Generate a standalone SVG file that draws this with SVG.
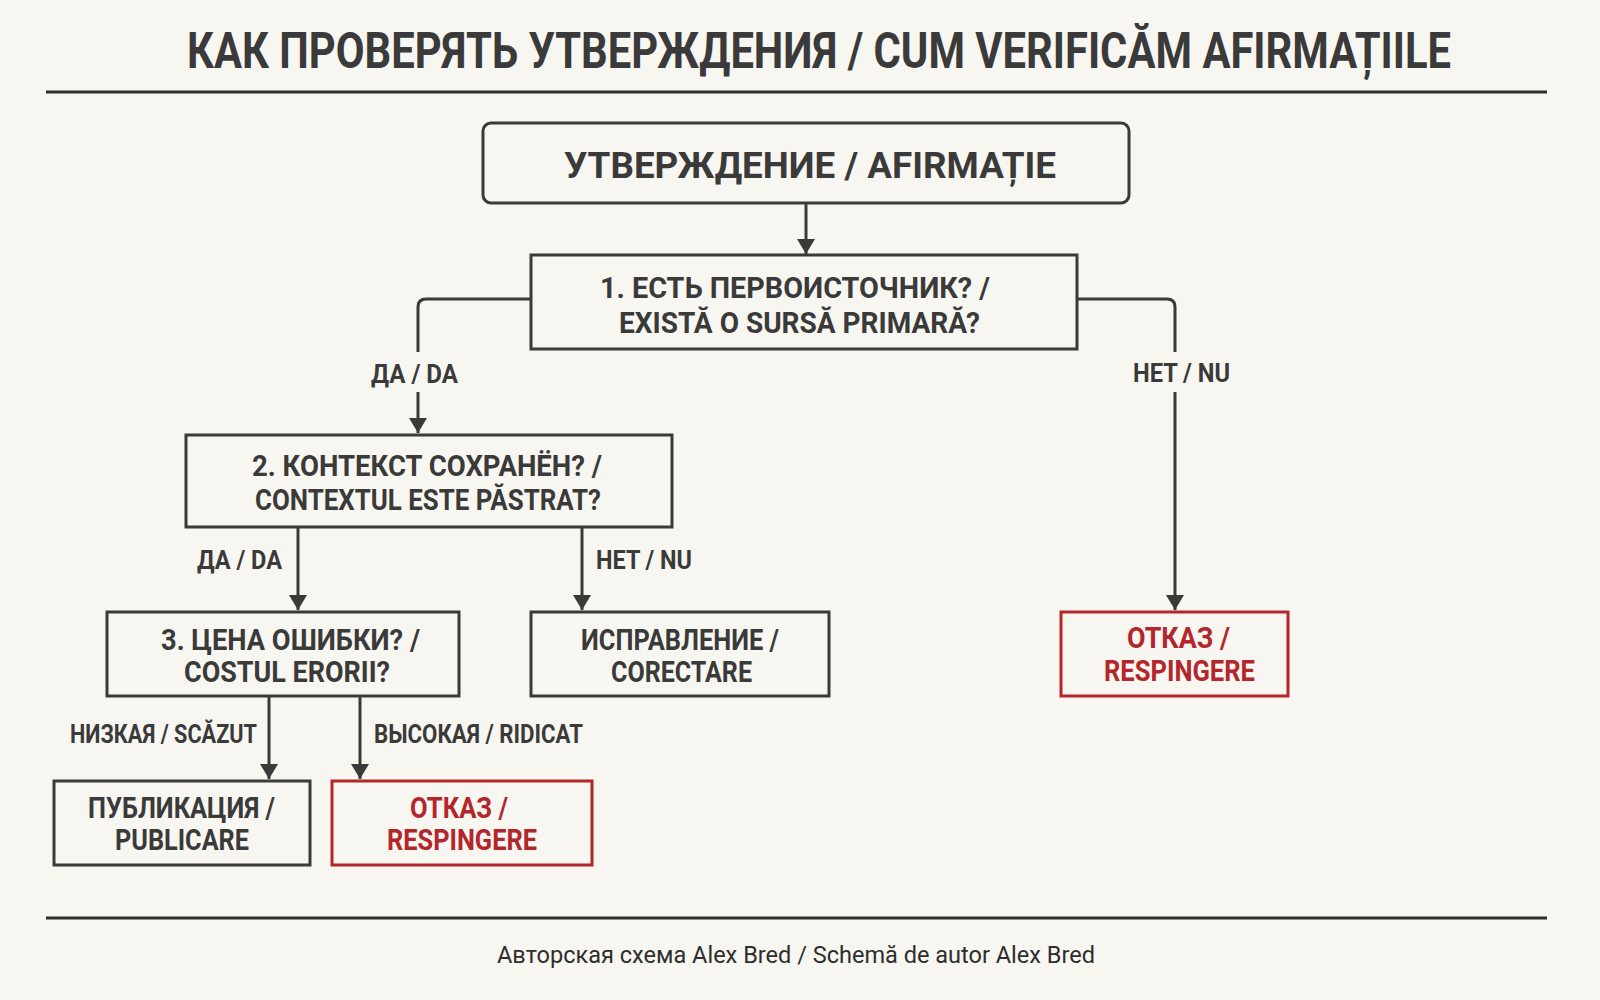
<svg xmlns="http://www.w3.org/2000/svg" width="1600" height="1000" viewBox="0 0 1600 1000">
<defs>
<style>
.bg{fill:#f8f6f0}
.box{fill:none;stroke:#3a3a3a;stroke-width:3}
.red{fill:none;stroke:#b3262b;stroke-width:3}
.t{font-family:Roboto,"Open Sans","DejaVu Sans",sans-serif;font-weight:700;fill:#3a3a3a}
.tr{font-family:Roboto,"Open Sans","DejaVu Sans",sans-serif;font-weight:700;fill:#b3262b}
.n{font-size:29px}
.lab{font-size:25px}
.edge{fill:none;stroke:#3a3a3a;stroke-width:3;stroke-linejoin:round}
.rule{stroke:#2e2e2e;stroke-width:3}
</style>
<marker id="arr" viewBox="0 -9 15 18" refX="15" refY="0" markerWidth="15" markerHeight="18" markerUnits="userSpaceOnUse" orient="auto">
<path d="M0,-9 L15,0 L0,9 z" fill="#3a3a3a"/>
</marker>
</defs>
<rect class="bg" x="0" y="0" width="1600" height="1000"/>

<text class="t" transform="matrix(0.857 0 0 1 187 68)" x="0" y="0" font-size="50" textLength="1475" lengthAdjust="spacingAndGlyphs">КАК ПРОВЕРЯТЬ УТВЕРЖДЕНИЯ / CUM VERIFICĂM AFIRMAȚIILE</text>
<line class="rule" x1="46" y1="92" x2="1547" y2="92"/>

<g id="connectors">
<path class="edge" d="M806,204 V254" marker-end="url(#arr)"/>
<path class="edge" d="M531,299 H426 Q418,299 418,307 V352"/>
<path class="edge" d="M418,392 V433" marker-end="url(#arr)"/>
<path class="edge" d="M1078,299 H1167 Q1175,299 1175,307 V352"/>
<path class="edge" d="M1175,392 V610" marker-end="url(#arr)"/>
<path class="edge" d="M298,528 V610" marker-end="url(#arr)"/>
<path class="edge" d="M582,528 V610" marker-end="url(#arr)"/>
<path class="edge" d="M269,697 V779" marker-end="url(#arr)"/>
<path class="edge" d="M360,697 V779" marker-end="url(#arr)"/>
<text class="t lab" x="371" y="383" textLength="87" lengthAdjust="spacingAndGlyphs">ДА / DA</text>
<text class="t lab" x="1133" y="382" textLength="97" lengthAdjust="spacingAndGlyphs">НЕТ / NU</text>
<text class="t lab" x="197" y="569" textLength="85" lengthAdjust="spacingAndGlyphs">ДА / DA</text>
<text class="t lab" x="596" y="569" textLength="96" lengthAdjust="spacingAndGlyphs">НЕТ / NU</text>
<text class="t lab" x="70" y="743" textLength="187" lengthAdjust="spacingAndGlyphs">НИЗКАЯ / SCĂZUT</text>
<text class="t lab" x="374" y="743" textLength="209" lengthAdjust="spacingAndGlyphs">ВЫСОКАЯ / RIDICAT</text>
</g>

<g id="claim">
<rect class="box" x="483" y="123" width="646" height="80" rx="8"/>
<text class="t" x="564" y="178" font-size="37" textLength="492" lengthAdjust="spacingAndGlyphs">УТВЕРЖДЕНИЕ / AFIRMAȚIE</text>
</g>

<g id="q1">
<rect class="box" x="531" y="255" width="546" height="94"/>
<text class="t n" x="600" y="298" textLength="390" lengthAdjust="spacingAndGlyphs">1. ЕСТЬ ПЕРВОИСТОЧНИК? /</text>
<text class="t n" x="619" y="333" textLength="361" lengthAdjust="spacingAndGlyphs">EXISTĂ O SURSĂ PRIMARĂ?</text>
</g>

<g id="q2">
<rect class="box" x="186" y="435" width="486" height="92"/>
<text class="t n" x="252" y="476" textLength="350" lengthAdjust="spacingAndGlyphs">2. КОНТЕКСТ СОХРАНЁН? /</text>
<text class="t n" x="255" y="510" textLength="346" lengthAdjust="spacingAndGlyphs">CONTEXTUL ESTE PĂSTRAT?</text>
</g>

<g id="q3">
<rect class="box" x="107" y="612" width="352" height="84"/>
<text class="t n" x="161" y="650" textLength="259" lengthAdjust="spacingAndGlyphs">3. ЦЕНА ОШИБКИ? /</text>
<text class="t n" x="184" y="682" textLength="206" lengthAdjust="spacingAndGlyphs">COSTUL ERORII?</text>
</g>

<g id="fix">
<rect class="box" x="531" y="612" width="298" height="84"/>
<text class="t n" x="581" y="650" textLength="198" lengthAdjust="spacingAndGlyphs">ИСПРАВЛЕНИЕ /</text>
<text class="t n" x="611" y="682" textLength="141" lengthAdjust="spacingAndGlyphs">CORECTARE</text>
</g>

<g id="reject1">
<rect class="red" x="1061" y="612" width="227" height="84"/>
<text class="tr n" x="1127" y="648" textLength="103" lengthAdjust="spacingAndGlyphs">ОТКАЗ /</text>
<text class="tr n" x="1104" y="681" textLength="151" lengthAdjust="spacingAndGlyphs">RESPINGERE</text>
</g>

<g id="publish">
<rect class="box" x="54" y="781" width="256" height="84"/>
<text class="t n" x="88" y="818" textLength="187" lengthAdjust="spacingAndGlyphs">ПУБЛИКАЦИЯ /</text>
<text class="t n" x="115" y="850" textLength="134" lengthAdjust="spacingAndGlyphs">PUBLICARE</text>
</g>

<g id="reject2">
<rect class="red" x="332" y="781" width="260" height="84"/>
<text class="tr n" x="410" y="818" textLength="98" lengthAdjust="spacingAndGlyphs">ОТКАЗ /</text>
<text class="tr n" x="387" y="850" textLength="150" lengthAdjust="spacingAndGlyphs">RESPINGERE</text>
</g>

<line class="rule" x1="46" y1="918" x2="1547" y2="918"/>
<text x="497" y="963" font-family="Roboto,'Open Sans','DejaVu Sans',sans-serif" font-size="24" fill="#2e2e2e" textLength="598" lengthAdjust="spacingAndGlyphs">Авторская схема Alex Bred / Schemă de autor Alex Bred</text>
</svg>
